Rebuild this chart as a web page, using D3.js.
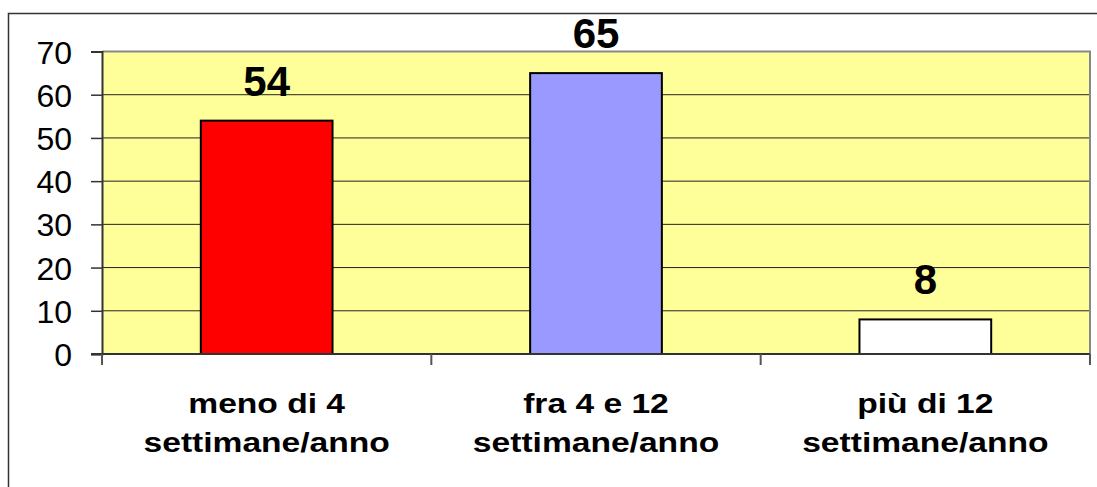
<!DOCTYPE html>
<html>
<head>
<meta charset="utf-8">
<script src="https://cdn.jsdelivr.net/npm/d3@7"></script>
<style>
  body { margin: 0; background: #fff; }
  svg { display: block; font-family: "Liberation Sans", Arial, sans-serif; }
</style>
</head>
<body>
<script>
// data
const categories = ["meno di 4|settimane/anno", "fra 4 e 12|settimane/anno", "più di 12|settimane/anno"];
const values = [54, 65, 8];
const barColors = ["#ff0000", "#9999ff", "#ffffff"];
const yTicks = [0, 10, 20, 30, 40, 50, 60, 70];

const width = 1097, height = 487;
const plot = {left: 102, right: 1090, top: 51.5, bottom: 354};

const svg = d3.select("body").append("svg")
    .attr("width", width)
    .attr("height", height);

// outer frame (runs off the right and bottom edge)
svg.append("rect")
    .attr("x", 8.5).attr("y", 13.5)
    .attr("width", 1200).attr("height", 600)
    .attr("fill", "none")
    .attr("stroke", "#333")
    .attr("stroke-width", 1.5);

const x = d3.scaleBand()
    .domain(categories)
    .range([plot.left, plot.right]);

const y = d3.scaleLinear()
    .domain([0, 70])
    .range([plot.bottom, plot.top]);

// plot background
svg.append("rect")
    .attr("x", plot.left).attr("y", plot.top)
    .attr("width", plot.right - plot.left)
    .attr("height", plot.bottom - plot.top)
    .attr("fill", "#ffff99");

// gridlines
svg.append("g")
  .selectAll("line")
  .data(yTicks.filter(d => d > 0 && d < 70))
  .join("line")
    .attr("x1", plot.left).attr("x2", plot.right)
    .attr("y1", d => y(d)).attr("y2", d => y(d))
    .attr("stroke", "#222")
    .attr("stroke-width", 1);

// top + right border of the plot area
svg.append("path")
    .attr("d", `M${plot.left},${plot.top}H${plot.right}V${plot.bottom}`)
    .attr("fill", "none")
    .attr("stroke", "#888")
    .attr("stroke-width", 2);

// bars
const bw = x.bandwidth() * 0.4;
svg.append("g")
  .selectAll("rect")
  .data(values)
  .join("rect")
    .attr("x", (d, i) => x(categories[i]) + (x.bandwidth() - bw) / 2)
    .attr("y", d => y(d))
    .attr("width", bw)
    .attr("height", d => y(0) - y(d))
    .attr("fill", (d, i) => barColors[i])
    .attr("stroke", "#000")
    .attr("stroke-width", 2);

// value labels
svg.append("g")
  .selectAll("text")
  .data(values)
  .join("text")
    .attr("x", (d, i) => x(categories[i]) + x.bandwidth() / 2)
    .attr("y", d => y(d) - 25)
    .attr("text-anchor", "middle")
    .attr("font-size", 42)
    .attr("font-weight", "bold")
    .text(d => d);

// y axis
const yAxis = svg.append("g")
    .attr("transform", `translate(${plot.left},0)`)
    .call(d3.axisLeft(y).tickValues(yTicks).tickSize(11).tickPadding(19));
yAxis.select(".domain").attr("stroke", "#333").attr("stroke-width", 2);
yAxis.selectAll(".tick line").attr("stroke", "#333").attr("stroke-width", 1.5);
yAxis.selectAll(".tick text")
    .attr("font-size", 32)
    .attr("font-family", "Liberation Sans, Arial, sans-serif")
    .attr("fill", "#000")
    .attr("dy", "0.36em");

// x axis line + category separators
svg.append("line")
    .attr("x1", plot.left - 11).attr("x2", plot.right)
    .attr("y1", plot.bottom).attr("y2", plot.bottom)
    .attr("stroke", "#333").attr("stroke-width", 2);
const seps = categories.map(c => x(c)).concat([x.range()[1]]);
svg.append("g")
  .selectAll("line")
  .data(seps)
  .join("line")
    .attr("x1", d => d).attr("x2", d => d)
    .attr("y1", plot.bottom).attr("y2", plot.bottom + 11)
    .attr("stroke", "#555").attr("stroke-width", 2);

// category labels (slightly widened, as in the original)
const cat = svg.append("g")
  .selectAll("g")
  .data(categories)
  .join("g")
    .attr("transform", d => `translate(${x(d) + x.bandwidth() / 2},0) scale(1.2,1)`);
cat.selectAll("text")
  .data(d => d.split("|"))
  .join("text")
    .attr("x", 0)
    .attr("y", (d, i) => 413 + i * 39)
    .attr("text-anchor", "middle")
    .attr("font-size", 28)
    .attr("font-weight", "bold")
    .text(d => d);
</script>
</body>
</html>
